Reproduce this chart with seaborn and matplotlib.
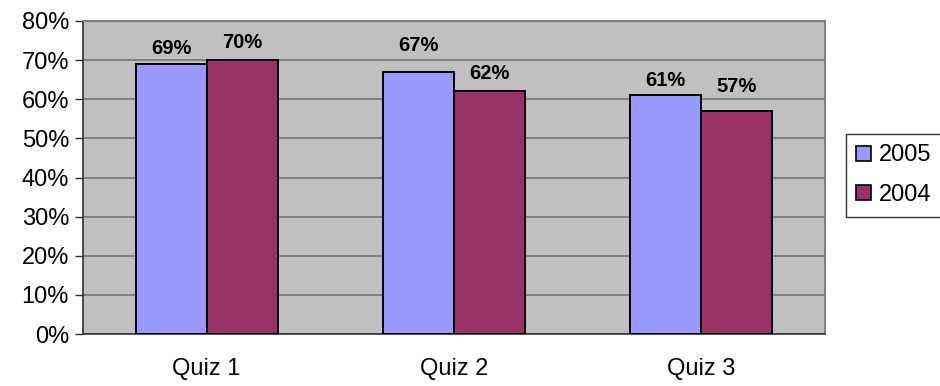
import matplotlib
matplotlib.use("Agg")
import matplotlib.pyplot as plt
import seaborn as sns
import pandas as pd
from matplotlib.ticker import PercentFormatter

categories = ["Quiz 1", "Quiz 2", "Quiz 3"]
series_names = ["2005", "2004"]
values_2005 = [0.69, 0.67, 0.61]
values_2004 = [0.70, 0.62, 0.57]
labels_2005 = ["69%", "67%", "61%"]
labels_2004 = ["70%", "62%", "57%"]
colors = ["#9999FF", "#993366"]

# label padding (points) per bar, styling only
pads_2005 = [4.5, 12, 4]
pads_2004 = [6, 6, 11]

df = pd.DataFrame({
    "quiz": categories * 2,
    "year": [series_names[0]] * 3 + [series_names[1]] * 3,
    "value": values_2005 + values_2004,
})

sns.set_style("white")
plt.rcParams['font.family'] = ['Liberation Sans', 'DejaVu Sans']
plt.rcParams['text.color'] = 'black'
plt.rcParams['xtick.labelcolor'] = 'black'
plt.rcParams['ytick.labelcolor'] = 'black'

fig = plt.figure(figsize=(9.4, 3.86), dpi=100)
ax = fig.add_axes([0.0883, 0.1347, 0.7894, 0.8109])
ax.set_facecolor("#C0C0C0")

sns.barplot(data=df, x="quiz", y="value", hue="year", hue_order=series_names,
            palette=colors, width=0.575, edgecolor="black", linewidth=1.4,
            ax=ax, saturation=1, legend=True, zorder=3)

ax.set_ylim(0, 0.8)
ax.set_xlim(-0.5, 2.5)
ax.yaxis.set_major_formatter(PercentFormatter(1.0, decimals=0))
ax.set_yticks([i / 10 for i in range(9)])
ax.grid(axis="y", color="#7a7a7a", linewidth=1.3, zorder=0)
ax.set_axisbelow(True)
ax.set_xlabel("")
ax.set_ylabel("")

ax.set_xticks([0, 1, 2])
ax.set_xticks([-0.5, 0.5, 1.5, 2.5], minor=True)
ax.tick_params(axis="x", which="major", length=0, labelsize=17, pad=17)
ax.tick_params(axis="x", which="minor", length=6, width=1, color="#303030", direction="out")
ax.tick_params(axis="y", which="major", length=6, width=1, color="#303030", direction="out",
               labelsize=17, pad=4, left=True)

for side in ["top", "right"]:
    ax.spines[side].set_color("#7a7a7a")
    ax.spines[side].set_linewidth(1.3)
for side in ["left", "bottom"]:
    ax.spines[side].set_color("#303030")
    ax.spines[side].set_linewidth(1.2)

for container, labs, pads in zip(ax.containers, [labels_2005, labels_2004], [pads_2005, pads_2004]):
    for bar, lab, p in zip(container, labs, pads):
        ax.annotate(lab, (bar.get_x() + bar.get_width() / 2, bar.get_height()),
                    xytext=(0, p), textcoords="offset points", ha="center", va="bottom",
                    fontsize=14.5, fontweight="bold", color="black")

handles, _ = ax.get_legend_handles_labels()
leg = ax.legend(handles, series_names, loc="center left", bbox_to_anchor=(1.028, 0.507),
                fontsize=17, frameon=True, fancybox=False, edgecolor="black",
                handlelength=0.6, handleheight=0.6, handletextpad=0.35,
                borderpad=0.45, labelspacing=0.75, borderaxespad=0)
leg.get_frame().set_linewidth(1.0)
for h in leg.legend_handles:
    h.set_edgecolor("black")
    h.set_linewidth(1.2)

fig.savefig("out.png", dpi=100)
